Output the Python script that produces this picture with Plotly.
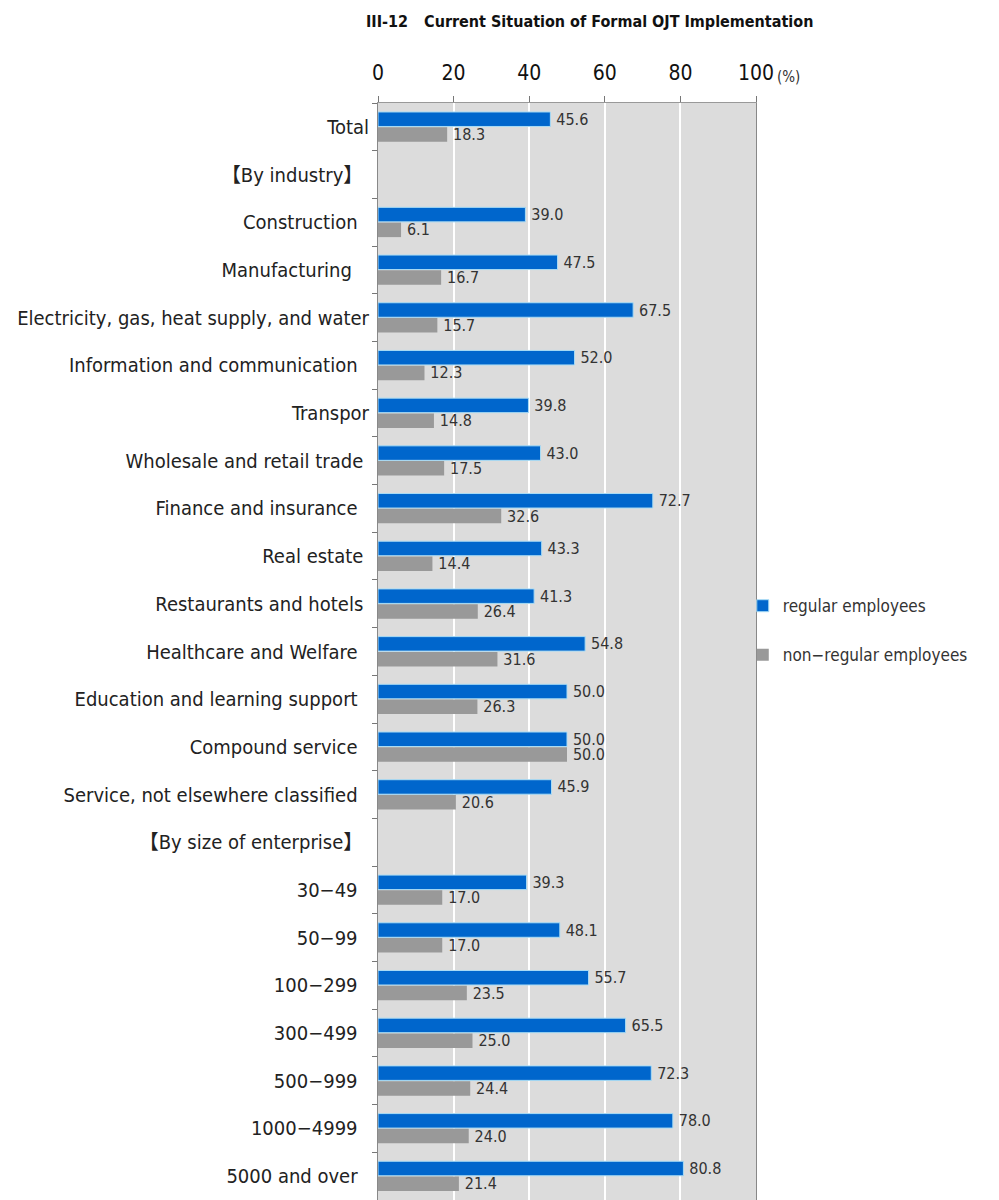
import plotly.graph_objects as go

NB = "\u00a0"
categories = [
    "Total", "【By industry】" + NB, "Construction" + NB * 2, "Manufacturing" + NB * 3,
    "Electricity, gas, heat supply, and water", "Information and communication" + NB * 2,
    "Transpor", "Wholesale and retail trade" + NB, "Finance and insurance" + NB * 2,
    "Real estate" + NB, "Restaurants and hotels" + NB, "Healthcare and Welfare" + NB * 2,
    "Education and learning support" + NB * 2, "Compound service" + NB * 2,
    "Service, not elsewhere classified" + NB * 2, "【By size of enterprise】" + NB,
    "30−49" + NB * 2, "50−99" + NB * 2, "100−299" + NB * 2, "300−499" + NB * 2,
    "500−999" + NB * 2, "1000−4999" + NB * 2, "5000 and over" + NB * 2,
]
regular = [45.6, None, 39.0, 47.5, 67.5, 52.0, 39.8, 43.0, 72.7, 43.3, 41.3, 54.8, 50.0,
           50.0, 45.9, None, 39.3, 48.1, 55.7, 65.5, 72.3, 78.0, 80.8]
non_regular = [18.3, None, 6.1, 16.7, 15.7, 12.3, 14.8, 17.5, 32.6, 14.4, 26.4, 31.6, 26.3,
               50.0, 20.6, None, 17.0, 17.0, 23.5, 25.0, 24.4, 24.0, 21.4]
x_ticks = [0, 20, 40, 60, 80, 100]

FONT = "DejaVu Sans Condensed, Noto Sans CJK JP, sans-serif"

fig = go.Figure()
fig.add_trace(go.Bar(
    y=categories, x=regular, orientation="h", name="regular employees",
    marker=dict(color="#0066CC", line=dict(color="#a9dcf5", width=1)),
    texttemplate="\u2009%{x:.1f}", textposition="outside", constraintext="none",
    textfont=dict(size=16, color="#333333", family=FONT),
    legendgroup="a", cliponaxis=False,
))
fig.add_trace(go.Bar(
    y=categories, x=non_regular, orientation="h", name="non−regular employees",
    marker=dict(color="#999999", line=dict(width=0)),
    texttemplate="\u2009%{x:.1f}", textposition="outside", constraintext="none",
    textfont=dict(size=16, color="#333333", family=FONT),
    legendgroup="b", cliponaxis=False,
))

fig.update_layout(
    width=991, height=1192,
    margin=dict(l=370, r=243, t=95, b=0),
    paper_bgcolor="white", plot_bgcolor="#dcdcdc",
    barmode="group", bargap=0.36, bargroupgap=0.05,
    font=dict(family=FONT, color="#222222"),
    title=dict(text="<b>III-12\u3000Current Situation of Formal OJT Implementation</b>",
               x=0.587, xanchor="center", y=0.9885, yanchor="middle",
               font=dict(size=16, color="#111111", family=FONT)),
    showlegend=True,
    legend=dict(x=0.965, y=0.519, xanchor="left", yanchor="middle",
                font=dict(size=17, color="#333333", family=FONT),
                tracegroupgap=24, traceorder="grouped", itemwidth=30,
                bgcolor="rgba(0,0,0,0)"),
    xaxis=dict(side="top", range=[0, 100], tickvals=x_ticks, ticks="outside", ticklen=6,
               tickcolor="#777777", showline=True, linecolor="#999999",
               showgrid=True, gridcolor="white", gridwidth=2, zeroline=False,
               automargin=False, ticklabelstandoff=8,
               tickfont=dict(size=21, color="#111111", family=FONT)),
    yaxis=dict(autorange="reversed", type="category", tickson="boundaries",
               ticks="outside", ticklen=5, tickcolor="#777777",
               showline=True, linecolor="#888888", mirror=True, linewidth=1,
               showgrid=False, automargin=False, ticklabelstandoff=4,
               tickfont=dict(size=20, color="#222222", family=FONT)),
)
fig.add_annotation(text="(%)", xref="paper", yref="paper", x=1.05, y=1.0, yshift=26,
                   xanchor="left", yanchor="middle", showarrow=False,
                   font=dict(size=15, color="#333333", family=FONT))

fig.write_html("out.html")
